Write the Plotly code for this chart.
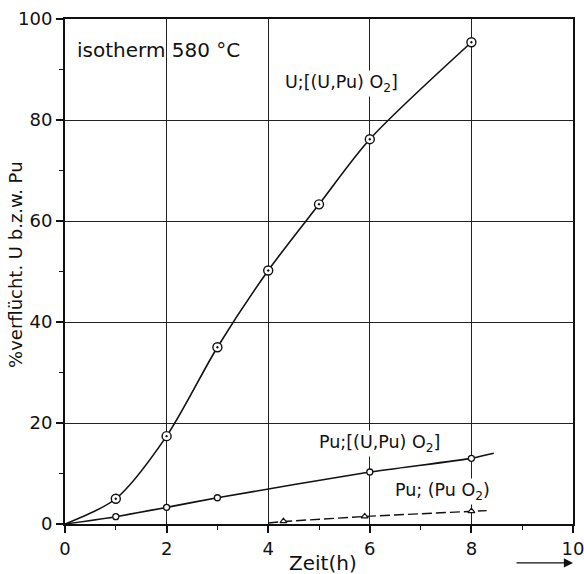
import plotly.graph_objects as go

# ---- data ----
u_time = [0, 1, 2, 3, 4, 5, 6, 8]
u_vals = [0, 5.0, 17.4, 35.0, 50.2, 63.3, 76.2, 95.4]

pu_mix_time = [0, 1, 2, 3, 6, 8, 8.44]
pu_mix_vals = [0, 1.45, 3.3, 5.2, 10.3, 13.0, 14.0]
pu_mix_pt_time = [1, 2, 3, 6, 8]
pu_mix_pt_vals = [1.45, 3.3, 5.2, 10.3, 13.0]

pu_o2_time = [4.0, 4.3, 5.9, 8.0, 8.3]
pu_o2_vals = [0.2, 0.5, 1.5, 2.5, 2.65]
pu_o2_pt_time = [4.3, 5.9, 8.0]
pu_o2_pt_vals = [0.55, 1.5, 2.55]

x_ticks = [0, 2, 4, 6, 8, 10]
y_ticks = [0, 20, 40, 60, 80, 100]

FONT = "DejaVu Sans, sans-serif"
INK = "#111111"

fig = go.Figure()

fig.add_trace(go.Scatter(x=u_time, y=u_vals, mode="lines",
                         line=dict(color=INK, width=1.6, shape="spline", smoothing=0.8),
                         hoverinfo="skip", showlegend=False))
fig.add_trace(go.Scatter(x=u_time[1:], y=u_vals[1:], mode="markers",
                         marker=dict(symbol="circle-dot", size=9, color="white",
                                     line=dict(color=INK, width=1.4)),
                         showlegend=False))

fig.add_trace(go.Scatter(x=pu_mix_time, y=pu_mix_vals, mode="lines",
                         line=dict(color=INK, width=1.6, shape="spline", smoothing=0.5),
                         hoverinfo="skip", showlegend=False))
fig.add_trace(go.Scatter(x=pu_mix_pt_time, y=pu_mix_pt_vals, mode="markers",
                         marker=dict(symbol="circle", size=6, color="white",
                                     line=dict(color=INK, width=1.3)),
                         showlegend=False))

fig.add_trace(go.Scatter(x=pu_o2_time, y=pu_o2_vals, mode="lines",
                         line=dict(color=INK, width=1.4, dash="10px,4px"),
                         hoverinfo="skip", showlegend=False))
fig.add_trace(go.Scatter(x=pu_o2_pt_time, y=pu_o2_pt_vals, mode="markers",
                         marker=dict(symbol="triangle-up", size=6, color="white",
                                     line=dict(color=INK, width=1.2)),
                         showlegend=False))

axis_common = dict(
    showline=True, linecolor=INK, linewidth=2, mirror=True, automargin=False,
    showgrid=True, gridcolor="#222222", gridwidth=1.2, ticklabeloverflow="allow",
    zeroline=False, ticks="outside", ticklen=7, tickwidth=1.5, tickcolor=INK,
    tickfont=dict(family=FONT, size=18, color=INK),
)

fig.update_xaxes(range=[0, 10], tickvals=x_ticks, ticktext=[str(v) for v in x_ticks],
                 minor=dict(tickvals=[1, 3, 5, 7, 9], ticks="outside", ticklen=4,
                            tickcolor=INK, tickwidth=1.2, showgrid=False),
                 **axis_common)
fig.update_yaxes(range=[0, 100], tickvals=y_ticks, ticktext=[str(v) for v in y_ticks],
                 minor=dict(tickvals=[10, 30, 50, 70, 90], ticks="outside", ticklen=4,
                            tickcolor=INK, tickwidth=1.2, showgrid=False),
                 **axis_common)

anno_font = dict(family=FONT, size=17.5, color=INK)
annotations = [
    dict(x=0.2, y=93.9, xref="x", yref="y", text="isotherm 580 °C", showarrow=False,
         xanchor="left", yanchor="middle", font=dict(family=FONT, size=20, color=INK)),
    dict(x=4.29, y=87.3, xref="x", yref="y", text="U;[(U,Pu) O<sub>2</sub>]", showarrow=False,
         xanchor="left", yanchor="middle", font=anno_font, bgcolor="white"),
    dict(x=4.96, y=15.9, xref="x", yref="y", text="Pu;[(U,Pu) O<sub>2</sub>]", showarrow=False,
         xanchor="left", yanchor="middle", font=anno_font, bgcolor="white"),
    dict(x=6.46, y=6.5, xref="x", yref="y", text="Pu; (Pu O<sub>2</sub>)", showarrow=False,
         xanchor="left", yanchor="middle", font=anno_font, bgcolor="white"),
    dict(x=-0.0965, y=0.513, xref="paper", yref="paper", text="%verflücht. U b.z.w. Pu",
         showarrow=False, textangle=-90, xanchor="center", yanchor="middle",
         font=dict(family=FONT, size=18, color=INK)),
    dict(x=0.508, y=-0.077, xref="paper", yref="paper", text="Zeit(h)",
         showarrow=False, xanchor="center", yanchor="middle",
         font=dict(family=FONT, size=20, color=INK)),
    dict(x=1.0, y=-0.077, xref="paper", yref="paper", text="", showarrow=True,
         ax=-58, ay=0, arrowhead=2, arrowsize=1.4, arrowwidth=1.3, arrowcolor=INK),
]
fig.update_layout(
    width=584, height=574,
    margin=dict(l=65, r=11, t=19, b=50),
    paper_bgcolor="white", plot_bgcolor="white",
    annotations=annotations,
    showlegend=False,
)

fig.write_html("out.html", config={"displayModeBar": False},
               post_script="document.body.style.margin='0';document.body.style.overflow='hidden';")
